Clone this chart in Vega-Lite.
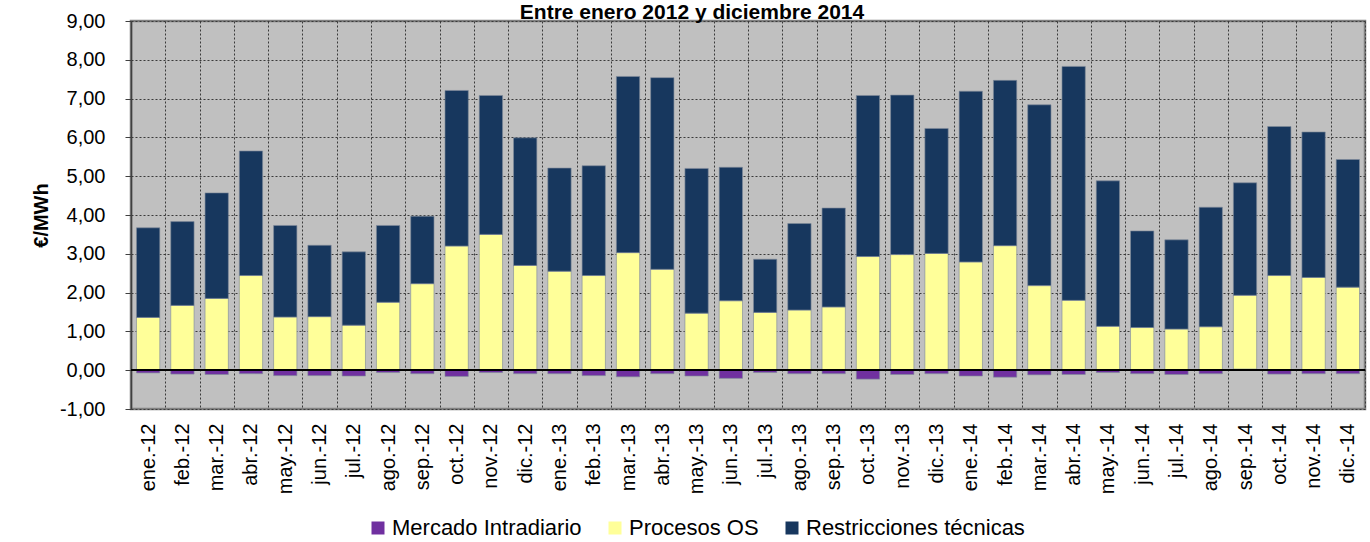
{
  "$schema": "https://vega.github.io/schema/vega-lite/v6.json",
  "width": 1234,
  "height": 388,
  "autosize": {"type": "none"},
  "padding": {"left": 131, "top": 21, "right": 5, "bottom": 133},
  "background": "white",
  "title": {"text": "Entre enero 2012 y diciembre 2014", "fontSize": 21, "fontWeight": "bold", "font": "Liberation Sans", "color": "#000000", "anchor": "middle", "frame": "group", "dx": -56, "offset": 0, "dy": 29, "baseline": "alphabetic"},
  "data": {"values": [
    {"mes": "ene.-12", "serie": "Mercado Intradiario", "valor": -0.07}, {"mes": "ene.-12", "serie": "Procesos OS", "valor": 1.36}, {"mes": "ene.-12", "serie": "Restricciones técnicas", "valor": 2.31},
    {"mes": "feb.-12", "serie": "Mercado Intradiario", "valor": -0.10}, {"mes": "feb.-12", "serie": "Procesos OS", "valor": 1.67}, {"mes": "feb.-12", "serie": "Restricciones técnicas", "valor": 2.16},
    {"mes": "mar.-12", "serie": "Mercado Intradiario", "valor": -0.11}, {"mes": "mar.-12", "serie": "Procesos OS", "valor": 1.85}, {"mes": "mar.-12", "serie": "Restricciones técnicas", "valor": 2.72},
    {"mes": "abr.-12", "serie": "Mercado Intradiario", "valor": -0.09}, {"mes": "abr.-12", "serie": "Procesos OS", "valor": 2.44}, {"mes": "abr.-12", "serie": "Restricciones técnicas", "valor": 3.21},
    {"mes": "may.-12", "serie": "Mercado Intradiario", "valor": -0.14}, {"mes": "may.-12", "serie": "Procesos OS", "valor": 1.37}, {"mes": "may.-12", "serie": "Restricciones técnicas", "valor": 2.36},
    {"mes": "jun.-12", "serie": "Mercado Intradiario", "valor": -0.14}, {"mes": "jun.-12", "serie": "Procesos OS", "valor": 1.38}, {"mes": "jun.-12", "serie": "Restricciones técnicas", "valor": 1.84},
    {"mes": "jul.-12", "serie": "Mercado Intradiario", "valor": -0.15}, {"mes": "jul.-12", "serie": "Procesos OS", "valor": 1.16}, {"mes": "jul.-12", "serie": "Restricciones técnicas", "valor": 1.89},
    {"mes": "ago.-12", "serie": "Mercado Intradiario", "valor": -0.06}, {"mes": "ago.-12", "serie": "Procesos OS", "valor": 1.75}, {"mes": "ago.-12", "serie": "Restricciones técnicas", "valor": 1.98},
    {"mes": "sep.-12", "serie": "Mercado Intradiario", "valor": -0.09}, {"mes": "sep.-12", "serie": "Procesos OS", "valor": 2.23}, {"mes": "sep.-12", "serie": "Restricciones técnicas", "valor": 1.74},
    {"mes": "oct.-12", "serie": "Mercado Intradiario", "valor": -0.16}, {"mes": "oct.-12", "serie": "Procesos OS", "valor": 3.20}, {"mes": "oct.-12", "serie": "Restricciones técnicas", "valor": 4.01},
    {"mes": "nov.-12", "serie": "Mercado Intradiario", "valor": -0.06}, {"mes": "nov.-12", "serie": "Procesos OS", "valor": 3.50}, {"mes": "nov.-12", "serie": "Restricciones técnicas", "valor": 3.58},
    {"mes": "dic.-12", "serie": "Mercado Intradiario", "valor": -0.09}, {"mes": "dic.-12", "serie": "Procesos OS", "valor": 2.70}, {"mes": "dic.-12", "serie": "Restricciones técnicas", "valor": 3.29},
    {"mes": "ene.-13", "serie": "Mercado Intradiario", "valor": -0.09}, {"mes": "ene.-13", "serie": "Procesos OS", "valor": 2.55}, {"mes": "ene.-13", "serie": "Restricciones técnicas", "valor": 2.66},
    {"mes": "feb.-13", "serie": "Mercado Intradiario", "valor": -0.14}, {"mes": "feb.-13", "serie": "Procesos OS", "valor": 2.44}, {"mes": "feb.-13", "serie": "Restricciones técnicas", "valor": 2.83},
    {"mes": "mar.-13", "serie": "Mercado Intradiario", "valor": -0.17}, {"mes": "mar.-13", "serie": "Procesos OS", "valor": 3.03}, {"mes": "mar.-13", "serie": "Restricciones técnicas", "valor": 4.54},
    {"mes": "abr.-13", "serie": "Mercado Intradiario", "valor": -0.09}, {"mes": "abr.-13", "serie": "Procesos OS", "valor": 2.60}, {"mes": "abr.-13", "serie": "Restricciones técnicas", "valor": 4.94},
    {"mes": "may.-13", "serie": "Mercado Intradiario", "valor": -0.15}, {"mes": "may.-13", "serie": "Procesos OS", "valor": 1.47}, {"mes": "may.-13", "serie": "Restricciones técnicas", "valor": 3.73},
    {"mes": "jun.-13", "serie": "Mercado Intradiario", "valor": -0.21}, {"mes": "jun.-13", "serie": "Procesos OS", "valor": 1.79}, {"mes": "jun.-13", "serie": "Restricciones técnicas", "valor": 3.44},
    {"mes": "jul.-13", "serie": "Mercado Intradiario", "valor": -0.06}, {"mes": "jul.-13", "serie": "Procesos OS", "valor": 1.49}, {"mes": "jul.-13", "serie": "Restricciones técnicas", "valor": 1.37},
    {"mes": "ago.-13", "serie": "Mercado Intradiario", "valor": -0.09}, {"mes": "ago.-13", "serie": "Procesos OS", "valor": 1.55}, {"mes": "ago.-13", "serie": "Restricciones técnicas", "valor": 2.23},
    {"mes": "sep.-13", "serie": "Mercado Intradiario", "valor": -0.09}, {"mes": "sep.-13", "serie": "Procesos OS", "valor": 1.63}, {"mes": "sep.-13", "serie": "Restricciones técnicas", "valor": 2.55},
    {"mes": "oct.-13", "serie": "Mercado Intradiario", "valor": -0.23}, {"mes": "oct.-13", "serie": "Procesos OS", "valor": 2.93}, {"mes": "oct.-13", "serie": "Restricciones técnicas", "valor": 4.15},
    {"mes": "nov.-13", "serie": "Mercado Intradiario", "valor": -0.11}, {"mes": "nov.-13", "serie": "Procesos OS", "valor": 2.98}, {"mes": "nov.-13", "serie": "Restricciones técnicas", "valor": 4.11},
    {"mes": "dic.-13", "serie": "Mercado Intradiario", "valor": -0.09}, {"mes": "dic.-13", "serie": "Procesos OS", "valor": 3.01}, {"mes": "dic.-13", "serie": "Restricciones técnicas", "valor": 3.22},
    {"mes": "ene.-14", "serie": "Mercado Intradiario", "valor": -0.15}, {"mes": "ene.-14", "serie": "Procesos OS", "valor": 2.79}, {"mes": "ene.-14", "serie": "Restricciones técnicas", "valor": 4.40},
    {"mes": "feb.-14", "serie": "Mercado Intradiario", "valor": -0.18}, {"mes": "feb.-14", "serie": "Procesos OS", "valor": 3.21}, {"mes": "feb.-14", "serie": "Restricciones técnicas", "valor": 4.26},
    {"mes": "mar.-14", "serie": "Mercado Intradiario", "valor": -0.12}, {"mes": "mar.-14", "serie": "Procesos OS", "valor": 2.18}, {"mes": "mar.-14", "serie": "Restricciones técnicas", "valor": 4.66},
    {"mes": "abr.-14", "serie": "Mercado Intradiario", "valor": -0.11}, {"mes": "abr.-14", "serie": "Procesos OS", "valor": 1.80}, {"mes": "abr.-14", "serie": "Restricciones técnicas", "valor": 6.03},
    {"mes": "may.-14", "serie": "Mercado Intradiario", "valor": -0.06}, {"mes": "may.-14", "serie": "Procesos OS", "valor": 1.13}, {"mes": "may.-14", "serie": "Restricciones técnicas", "valor": 3.75},
    {"mes": "jun.-14", "serie": "Mercado Intradiario", "valor": -0.09}, {"mes": "jun.-14", "serie": "Procesos OS", "valor": 1.10}, {"mes": "jun.-14", "serie": "Restricciones técnicas", "valor": 2.49},
    {"mes": "jul.-14", "serie": "Mercado Intradiario", "valor": -0.11}, {"mes": "jul.-14", "serie": "Procesos OS", "valor": 1.06}, {"mes": "jul.-14", "serie": "Restricciones técnicas", "valor": 2.30},
    {"mes": "ago.-14", "serie": "Mercado Intradiario", "valor": -0.09}, {"mes": "ago.-14", "serie": "Procesos OS", "valor": 1.12}, {"mes": "ago.-14", "serie": "Restricciones técnicas", "valor": 3.08},
    {"mes": "sep.-14", "serie": "Mercado Intradiario", "valor": 0.03}, {"mes": "sep.-14", "serie": "Procesos OS", "valor": 1.90}, {"mes": "sep.-14", "serie": "Restricciones técnicas", "valor": 2.90},
    {"mes": "oct.-14", "serie": "Mercado Intradiario", "valor": -0.10}, {"mes": "oct.-14", "serie": "Procesos OS", "valor": 2.44}, {"mes": "oct.-14", "serie": "Restricciones técnicas", "valor": 3.84},
    {"mes": "nov.-14", "serie": "Mercado Intradiario", "valor": -0.09}, {"mes": "nov.-14", "serie": "Procesos OS", "valor": 2.39}, {"mes": "nov.-14", "serie": "Restricciones técnicas", "valor": 3.75},
    {"mes": "dic.-14", "serie": "Mercado Intradiario", "valor": -0.09}, {"mes": "dic.-14", "serie": "Procesos OS", "valor": 2.14}, {"mes": "dic.-14", "serie": "Restricciones técnicas", "valor": 3.29}
  ]},
  "layer": [
    {
      "mark": {"type": "bar", "width": {"band": 0.68}, "stroke": "#7f8a9a", "strokeWidth": 0.8, "strokeOpacity": 0.8},
      "encoding": {
        "x": {
          "field": "mes", "type": "nominal", "sort": null,
          "scale": {"paddingInner": 0, "paddingOuter": 0},
          "axis": {"title": null, "labelAngle": -90, "labelAlign": "right", "labelBaseline": "middle", "labelFontSize": 20, "labelColor": "#000000", "labelPadding": 14, "labelOverlap": false, "ticks": false, "domain": false, "grid": true, "tickBand": "extent", "gridColor": "#3a3a3a", "gridDash": [2, 2], "gridWidth": 1}
        },
        "y": {
          "field": "valor", "type": "quantitative", "stack": "zero",
          "scale": {"domain": [-1, 9], "nice": false, "zero": false},
          "axis": {"tickCount": 10, "labelExpr": "replace(replace(format(datum.value, '.2f'), '.', ','), '\u2212', '-')", "labelOverlap": false, "labelFontSize": 20, "labelColor": "#000000", "labelPadding": 20, "tickSize": 6, "tickColor": "#404040", "domainColor": "#404040", "domainWidth": 1.5, "grid": true, "gridColor": "#3a3a3a", "gridDash": [2, 2], "gridWidth": 1, "title": "€/MWh", "titleFontSize": 20, "titleFontWeight": "bold", "titleColor": "#000000", "titlePadding": 8}
        },
        "color": {
          "field": "serie", "type": "nominal",
          "scale": {"domain": ["Mercado Intradiario", "Procesos OS", "Restricciones técnicas"], "range": ["#7030A0", "#FFFF99", "#17375E"]},
          "legend": {"orient": "none", "legendX": 236, "legendY": 496, "direction": "horizontal", "title": null, "symbolType": "square", "symbolSize": 169, "symbolStrokeWidth": 0, "labelFontSize": 22, "labelLimit": 500, "labelColor": "#000000", "labelOffset": 3, "columnPadding": 22}
        },
        "order": {"field": "serie", "sort": "ascending"}
      }
    },
    {
      "mark": {"type": "rule", "color": "#000000", "strokeWidth": 1.3},
      "encoding": {"y": {"datum": 0}}
    }
  ],
  "config": {
    "font": "Liberation Sans",
    "view": {"fill": "#C0C0C0", "stroke": "#808080", "strokeWidth": 2.5},
    "axisY": {"labelOverlap": false}
  }
}
